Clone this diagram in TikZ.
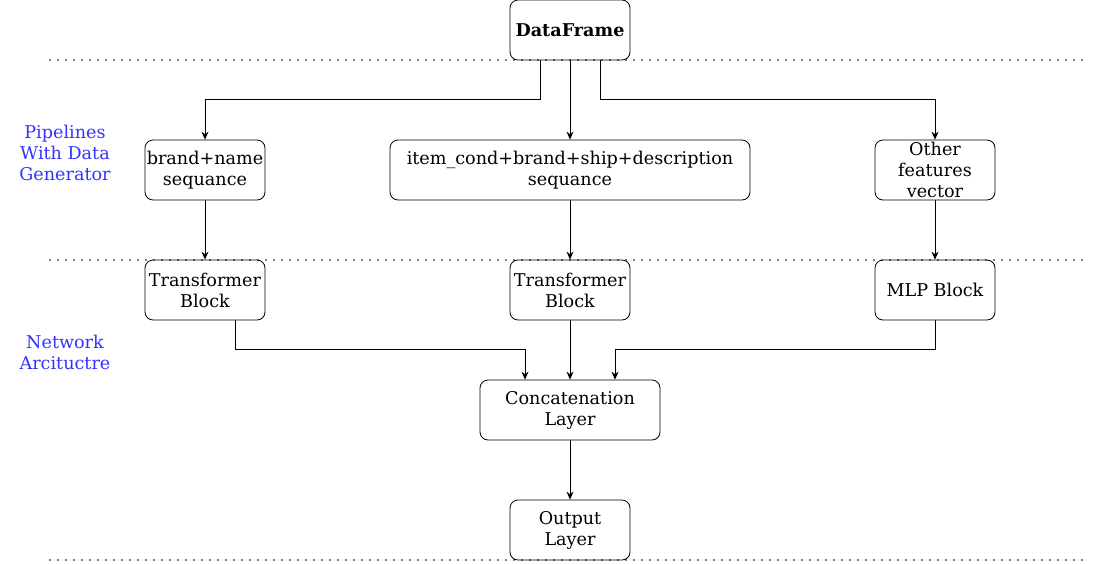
\documentclass[tikz,border=0pt]{standalone}
\usepackage{fontspec}
\setmainfont{DejaVu Serif}
\usepackage{xcolor}
\usetikzlibrary{arrows.meta,positioning,calc}
\definecolor{stageblue}{RGB}{51,51,255}

\begin{document}
\begin{tikzpicture}[
  x=1pt, y=-1pt,
  font=\fontsize{17.6}{21}\selectfont,
  b/.style={draw, rounded corners=8pt, align=center, inner sep=0pt,
            minimum height=60pt, minimum width=120pt, line width=0.8pt},
  ar/.style={-{Stealth[length=8pt,width=7pt]}, line width=0.8pt},
  sep/.style={line width=1.6pt, line cap=round, dash pattern=on 0pt off 8pt},
  stage/.style={align=center, text=stageblue}
]
\useasboundingbox (0,0) rectangle (1093,563);

% separators
\draw[sep] (50,60) -- (1085,60);
\draw[sep] (50,260) -- (1085,260);
\draw[sep] (50,560) -- (1085,560);

\node[b] (df) at (570,30) {\textbf{DataFrame}};
\node[b] (brand) at (205,170) {brand+name\\sequance};
\node[b, minimum width=360pt] (item) at (570,170) {item\_cond+brand+ship+description\\sequance};
\node[b] (other) at (935,170) {Other\\features\\vector};
\node[b] (trans1) at (205,290) {Transformer\\Block};
\node[b] (trans2) at (570,290) {Transformer\\Block};
\node[b] (mlp) at (935,290) {MLP Block};
\node[b, minimum width=180pt] (concat) at (570,410) {Concatenation\\Layer};
\node[b] (out) at (570,530) {Output\\Layer};

\node[stage] (pipe) at (65,153) {Pipelines\\With Data\\Generator};
\node[stage] (net) at (65,352) {Network\\Arcituctre};

\draw[ar] ([xshift=-30pt]df.south) |- ($(brand.north)+(0,-40)$) -- (brand.north);
\draw[ar] (df) -- (item);
\draw[ar] ([xshift=30pt]df.south) |- ($(other.north)+(0,-40)$) -- (other.north);

\draw[ar] (brand) -- (trans1);
\draw[ar] (item) -- (trans2);
\draw[ar] (other) -- (mlp);

\draw[ar] ([xshift=30pt]trans1.south) |- ($([xshift=-45pt]concat.north)+(0,-30)$) -- ([xshift=-45pt]concat.north);
\draw[ar] (trans2) -- (concat);
\draw[ar] (mlp.south) |- ($([xshift=45pt]concat.north)+(0,-30)$) -- ([xshift=45pt]concat.north);

\draw[ar] (concat) -- (out);
\end{tikzpicture}
\end{document}
